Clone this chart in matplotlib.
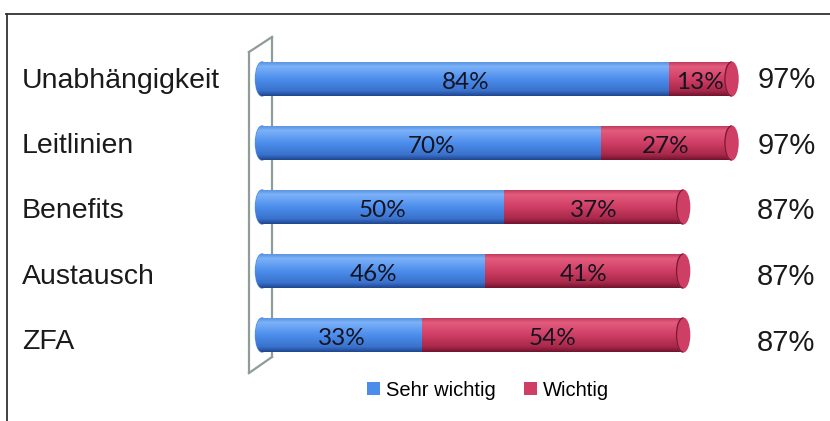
import numpy as np
import matplotlib
matplotlib.use("Agg")
import matplotlib.pyplot as plt
from matplotlib.colors import LinearSegmentedColormap
from matplotlib.patches import Ellipse, Arc
from matplotlib.lines import Line2D
import matplotlib.transforms as mtransforms

# data
categories = ["Unabhängigkeit", "Leitlinien", "Benefits", "Austausch", "ZFA"]
sehr_wichtig = [84, 70, 50, 46, 33]
wichtig = [13, 27, 37, 41, 54]
totals = [97, 97, 87, 87, 87]
series_names = ["Sehr wichtig", "Wichtig"]

W, H = 830, 421
fig = plt.figure(figsize=(W / 100, H / 100), dpi=100)
plt.rcParams['font.family'] = ['Liberation Sans', 'DejaVu Sans']

# axes placed so that the bars land where they are in the reference
px = 4.84
x_lo = -3
ax = fig.add_axes([(262 + x_lo * px) / W, 1 - 367 / H, (100 - x_lo) * px / W, 320 / H])
ax.set_axis_off()

blue_cmap = LinearSegmentedColormap.from_list(
    "b", [(0, "#5a93df"), (0.12, "#7cb2f8"), (0.5, "#4c8dec"), (0.85, "#3a72cc"), (1, "#1f4690")])
red_cmap = LinearSegmentedColormap.from_list(
    "r", [(0, "#c23c5c"), (0.12, "#e35c7e"), (0.5, "#cf3e64"), (0.85, "#a72849"), (1, "#721330")])
grad = np.linspace(0, 1, 64).reshape(-1, 1)

bh = 0.53
y = np.arange(len(categories))


def shade(patch, cmap, x0, x1, yc):
    img = ax.imshow(grad, cmap=cmap, aspect="auto", origin="upper",
                    extent=(x0, x1, yc + bh / 2, yc - bh / 2), zorder=3,
                    interpolation="bilinear")
    img.set_clip_path(patch)


b1 = ax.barh(y, sehr_wichtig, height=bh, color="#4c8dec", zorder=2, label=series_names[0])
b2 = ax.barh(y, wichtig, left=sehr_wichtig, height=bh, color="#cf3e64", zorder=2, label=series_names[1])

cap_w = 2.7
for i in range(len(categories)):
    # rounded left end
    el = Ellipse((0, y[i]), cap_w, bh, color="#4c8dec", zorder=2)
    ax.add_patch(el)
    shade(el, blue_cmap, -cap_w, 1, y[i])
    shade(b1[i], blue_cmap, 0, sehr_wichtig[i], y[i])
    shade(b2[i], red_cmap, sehr_wichtig[i], totals[i], y[i])
    # end cap on the right
    er = Ellipse((totals[i], y[i]), cap_w, bh, color="#cf3e64", zorder=4)
    ax.add_patch(er)
    shade(er, red_cmap, totals[i] - cap_w, totals[i] + cap_w, y[i])
    ax.add_patch(Arc((totals[i], y[i]), cap_w, bh, theta1=90, theta2=270,
                     color="#7a1835", lw=0.9, zorder=5))

    ax.text(sehr_wichtig[i] / 2, y[i] + 0.06, f"{sehr_wichtig[i]}%", ha="center", va="center",
            fontsize=17.5, family=["Lato", "DejaVu Sans"], color="#141420", zorder=6)
    ax.text(sehr_wichtig[i] + wichtig[i] / 2, y[i] + 0.06, f"{wichtig[i]}%", ha="center",
            va="center", fontsize=17.5, family=["Lato", "DejaVu Sans"], color="#141420", zorder=6)
    ax.text(102.3, y[i] + 0.02 + 0.025 * i, f"{totals[i]}%", ha="left", va="center",
            fontsize=21, color="#1a1a1a", clip_on=False)

# category labels at the left edge of the figure
trans = mtransforms.blended_transform_factory(fig.transFigure, ax.transData)
for i, c in enumerate(categories):
    ax.text(22 / W, y[i] + 0.03 + 0.02 * i, c, transform=trans, ha="left", va="center",
            fontsize=20.5, color="#1a1a1a", clip_on=False)

ax.set_xlim(x_lo, 100)
ax.set_ylim(len(categories) - 0.5, -0.5)

# 3d wall behind the bars
def fp(xp, yp):
    return xp / W, 1 - yp / H

wall = [((249, 52), (249, 373)), ((272, 37), (272, 357)),
        ((249, 52), (272, 37)), ((249, 373), (272, 357))]
for a, b in wall:
    (xa, ya), (xb, yb) = fp(*a), fp(*b)
    fig.add_artist(Line2D([xa, xb], [ya, yb], color="#8e9c9a", lw=1.6, zorder=0.5))
ax.set_zorder(1)

# frame lines (top and left)
fig.add_artist(Line2D([6 / W, 1], [1 - 14 / H, 1 - 14 / H], color="#333333", lw=1.3))
fig.add_artist(Line2D([7 / W, 7 / W], [1 - 14 / H, 0], color="#333333", lw=1.3))

fig.legend(handles=[b1, b2], labels=series_names, loc="center",
           bbox_to_anchor=(488 / W, 1 - 390 / H), ncol=2, frameon=False, fontsize=14.5,
           handlelength=0.65, handleheight=0.65, handletextpad=0.3, columnspacing=1.4)

fig.savefig("out.png", dpi=100)
